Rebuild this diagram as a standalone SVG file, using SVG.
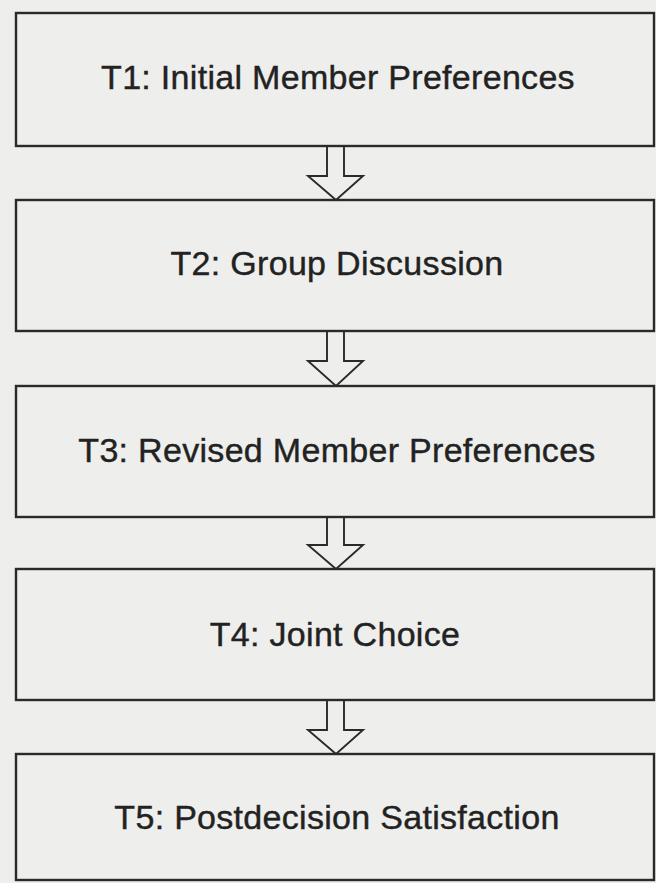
<svg xmlns="http://www.w3.org/2000/svg" width="656" height="883" viewBox="0 0 656 883">
  <style>
    .box { fill: none; stroke: #2a2a2a; stroke-width: 2.4; }
    .lbl { font-family: "Liberation Sans", Arial, sans-serif; font-size: 34px; fill: #222222; stroke: #222222; stroke-width: 0.4; text-anchor: middle; letter-spacing: 0.3px; }
    .arr { fill: #eeeeec; stroke: #2a2a2a; stroke-width: 1.9; stroke-linejoin: miter; }
  </style>
  <rect x="0" y="0" width="656" height="883" fill="#eeeeec"/>
  <g id="connectors">
    <path class="arr" d="M327,146 V176 H308 L336,200 L363,176 H344 V146"/>
    <path class="arr" d="M327,331 V361 H308 L336,386 L363,361 H344 V331"/>
    <path class="arr" d="M327,517 V545 H308 L336,569 L363,545 H344 V517"/>
    <path class="arr" d="M327,700 V730 H308 L336,754 L363,730 H344 V700"/>
  </g>
  <g id="t1">
    <rect class="box" x="16" y="13" width="638" height="133"/>
    <text class="lbl" x="338" y="89">T1: Initial Member Preferences</text>
  </g>
  <g id="t2">
    <rect class="box" x="16" y="200" width="638" height="131"/>
    <text class="lbl" x="337" y="275">T2: Group Discussion</text>
  </g>
  <g id="t3">
    <rect class="box" x="16" y="386" width="638" height="131"/>
    <text class="lbl" x="337" y="462">T3: Revised Member Preferences</text>
  </g>
  <g id="t4">
    <rect class="box" x="16" y="569" width="638" height="131"/>
    <text class="lbl" x="335" y="646">T4: Joint Choice</text>
  </g>
  <g id="t5">
    <rect class="box" x="16" y="754" width="638" height="126"/>
    <text class="lbl" x="337" y="829">T5: Postdecision Satisfaction</text>
  </g>
</svg>
